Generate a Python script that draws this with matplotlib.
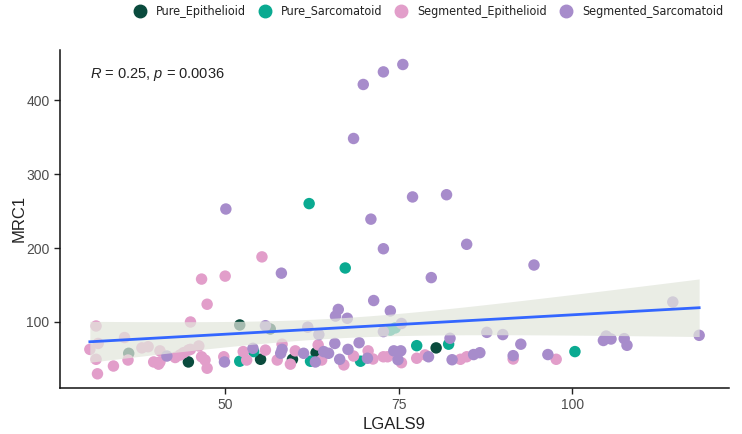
import matplotlib
matplotlib.use("Agg")
import matplotlib.pyplot as plt
import numpy as np
from matplotlib.font_manager import FontProperties

plt.rcParams['font.family'] = ['Liberation Sans', 'DejaVu Sans']
plt.rcParams['mathtext.fontset'] = 'custom'
plt.rcParams['mathtext.rm'] = 'Liberation Sans'
plt.rcParams['mathtext.it'] = 'Liberation Sans:italic'

# values (LGALS9, MRC1)
groups = ["Pure_Epithelioid", "Pure_Sarcomatoid", "Segmented_Epithelioid", "Segmented_Sarcomatoid"]
colors = ["#0A4B3D", "#0AAA91", "#E29ECA", "#A78CCB"]

pe_x = [36.1, 44.7, 52.1, 56.5, 55.1, 59.7, 63.1, 80.4]
pe_y = [57.7, 46, 96, 90.5, 49.6, 49.6, 58.5, 65]

ps_x = [62.1, 67.3, 52.1, 54.1, 62.3, 69.5, 73.8, 74.5, 77.6, 82.2, 100.4]
ps_y = [260, 173, 47, 60, 47, 47, 89, 92, 68, 70, 60]

se_x = [31.4, 30.5, 31.7, 31.4, 31.6, 33.9, 35.5, 36.0, 38.0, 38.9, 40.6, 39.7, 40.4, 40.6,
        42.8, 43.5, 44.0, 44.7, 45.0, 45.0, 46.2, 46.6, 47.1, 47.4, 47.4, 46.6, 50.0, 55.3,
        49.8, 52.6, 53.1, 55.8, 57.5, 58.2, 59.4, 60.1, 63.4, 63.9, 67.1, 68.5, 70.6, 71.3,
        72.8, 73.4, 75.4, 77.6, 78.8, 83.9, 84.8, 91.5, 97.7]
se_y = [94.6, 63, 71, 49.6, 30, 40.5, 79, 48.6, 65, 66.6, 61, 46, 43, 46,
        52, 55.4, 58.5, 62, 63, 100, 67.6, 53, 48.6, 37.5, 124, 158, 162, 188,
        53, 60, 48.6, 62, 48.6, 70, 43, 61, 69, 48.6, 42, 54, 61, 50,
        53, 53, 45, 51, 55.5, 49.6, 53, 50, 49.6]

ss_x = [69.9, 72.8, 75.6, 68.5, 77.0, 81.9, 71.0, 72.8, 84.8, 50.1, 58.1, 79.7, 94.5, 71.4,
        66.3, 65.9, 67.6, 73.8, 114.5, 118.3, 87.7, 90.0, 92.6, 86.7, 85.8, 91.5, 96.5, 104.5,
        104.9, 105.6, 107.5, 107.9, 55.8, 61.9, 63.5, 72.8, 75.4, 82.4, 69.3, 67.7, 70.5, 74.3,
        75.3, 74.9, 79.3, 82.7, 41.6, 49.9, 54.0, 58.2, 58.0, 61.3, 63.0, 64.2, 64.9, 65.8, 66.5]
ss_y = [421, 438, 448, 348, 269, 272, 239, 199, 205, 252.7, 166, 160, 177, 129,
        117, 108, 105, 115, 127, 82, 86, 83, 70, 58.5, 56, 54.5, 56, 75,
        81, 77, 77.5, 68.5, 95, 93, 83, 87, 98, 78, 72, 63, 51, 61,
        61, 49, 53, 49, 54, 46, 64.4, 63, 57.7, 57.7, 46, 60, 57.7, 71, 49.6]

xs = [pe_x, ps_x, se_x, ss_x]
ys = [pe_y, ps_y, se_y, ss_y]

W, H = 742, 434
fig = plt.figure(figsize=(W / 100, H / 100), dpi=100)
ax = fig.add_axes([60 / W, 1 - 388 / H, (729 - 60) / W, (388 - 49.7) / H])

for gx, gy, c, name in zip(xs, ys, colors, groups):
    ax.scatter(gx, gy, s=68, color=c, edgecolors='none', label=name, zorder=2)

# linear fit with 95% confidence band
x_all = np.concatenate([np.array(v, dtype=float) for v in xs])
y_all = np.concatenate([np.array(v, dtype=float) for v in ys])
n = len(x_all)
b, a = np.polyfit(x_all, y_all, 1)
resid = y_all - (a + b * x_all)
s = np.sqrt(np.sum(resid ** 2) / (n - 2))
xbar = x_all.mean()
sxx = np.sum((x_all - xbar) ** 2)
xg = np.linspace(x_all.min(), x_all.max(), 80)
yg = a + b * xg
se = s * np.sqrt(1 / n + (xg - xbar) ** 2 / sxx)
ax.fill_between(xg, yg - 1.98 * se, yg + 1.98 * se, color='#E2E6DC', alpha=0.72,
                linewidth=0, zorder=3)
ax.plot(xg, yg, color='#3366FF', linewidth=2, zorder=4)

ax.text(30.5, 430, r'$R$ = 0.25, $p$ = 0.0036', fontsize=10.5, color='#222222')

ax.set_xlim(26.2, 122.6)
ax.set_ylim(10.8, 468)
ax.set_xticks([50, 75, 100])
ax.set_yticks([100, 200, 300, 400])
ax.tick_params(labelsize=10, colors='#4D4D4D', length=4, width=1)
ax.tick_params(color='#222222')
for side in ['top', 'right']:
    ax.spines[side].set_visible(False)
for side in ['left', 'bottom']:
    ax.spines[side].set_linewidth(1.1)
    ax.spines[side].set_color('#111111')

ax.set_xlabel('LGALS9', fontsize=12, color='#222222', labelpad=3)
ax.set_ylabel('MRC1', fontsize=12, color='#222222')
ax.yaxis.set_label_coords(-0.05, 0.5)

# legend row across the top, condensed font, laid out left to right
leg_font = FontProperties(family='DejaVu Sans', stretch='condensed', size=9)
renderer = fig.canvas.get_renderer()
texts = []
widths = []
for name in groups:
    t = fig.text(0, 1 - 11 / H, name, fontproperties=leg_font, color='#222222',
                 va='center', ha='left')
    texts.append(t)
    widths.append(t.get_window_extent(renderer).width)
gap_mt, gap_tm = 16, 19
total = sum(widths) + len(groups) * gap_mt + (len(groups) - 1) * gap_tm
x0 = 723 - total
for t, w, c in zip(texts, widths, colors):
    fig.lines.append(plt.Line2D([x0 / W], [1 - 11 / H], marker='o', markersize=9,
                                color=c, linestyle='none', transform=fig.transFigure))
    t.set_x((x0 + gap_mt) / W)
    x0 += gap_mt + w + gap_tm

fig.savefig('out.png', dpi=100)
